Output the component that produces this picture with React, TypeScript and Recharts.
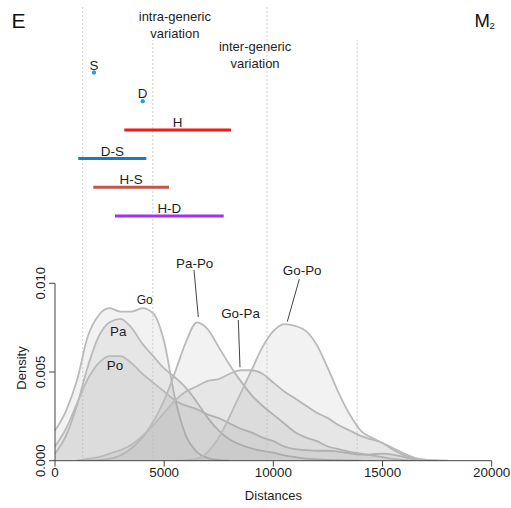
import { ComposedChart, Area, Line, XAxis, YAxis, ReferenceLine, ReferenceDot } from 'recharts'

// density grid (distance values)
const xGrid = [
  0, 500, 1000, 1500, 2000, 2500, 3000, 3500, 4000, 4500, 5000, 5500, 6000, 6500, 7000, 7500, 8000, 8500,
  9000, 9500, 10000, 10500, 11000, 11500, 12000, 12500, 13000, 13500, 14000, 14500, 15000, 15500, 16000,
  16500, 17000, 17500, 18000,
]

const goDens = [
  0.0017, 0.0028, 0.0045, 0.007, 0.0082, 0.0086, 0.0084, 0.0084, 0.0086, 0.0083, 0.0067, 0.0035, 0.0014,
  0.0005, 0.00015, 0.00004, 0, null, null, null, null, null, null, null, null, null, null, null, null, null,
  null, null, null, null, null, null, null,
]
const paDens = [
  0.0004, 0.0014, 0.0031, 0.0053, 0.007, 0.0078, 0.008, 0.0075, 0.0066, 0.0059, 0.0052, 0.0047, 0.0041,
  0.0033, 0.0024, 0.0017, 0.0012, 0.0009, 0.0007, 0.00055, 0.00045, 0.0003, 0.0002, 0.00012, 0.00008,
  0.00005, 0.00003, 0.00001, 0, null, null, null, null, null, null, null, null,
]
const poDens = [
  0.0008, 0.0018, 0.0032, 0.0046, 0.0055, 0.0059, 0.0059, 0.0055, 0.0049, 0.0044, 0.0039, 0.0034, 0.0031,
  0.0029, 0.0026, 0.0024, 0.0021, 0.0018, 0.0016, 0.0013, 0.0011, 0.0008, 0.00065, 0.0006, 0.00056, 0.00056,
  0.0005, 0.00042, 0.00034, 0.00036, 0.0004, 0.00033, 0.0002, 0.00008, 0.00002, 0, null,
]
const paPoDens = [
  null, null, null, 0, 0.00003, 0.0001, 0.0003, 0.0007, 0.0013, 0.0022, 0.0034, 0.005, 0.0067, 0.0078,
  0.0074, 0.0064, 0.0054, 0.0045, 0.0037, 0.0031, 0.0026, 0.0021, 0.0016, 0.0013, 0.0011, 0.0008, 0.00065,
  0.0005, 0.0004, 0.0003, 0.0002, 0.0001, 0.00003, 0, null, null, null,
]
const goPaDens = [
  null, null, 0, 0.0001, 0.0002, 0.0004, 0.0006, 0.0009, 0.0014, 0.002, 0.0027, 0.0034, 0.0039, 0.0042,
  0.0045, 0.0046, 0.0049, 0.0051, 0.0051, 0.0049, 0.0044, 0.0039, 0.0035, 0.0031, 0.0027, 0.0024, 0.002,
  0.0017, 0.0014, 0.0012, 0.001, 0.0006, 0.0003, 0.0001, 0.00003, 0, null,
]
const goPoDens = [
  null, null, null, null, null, null, null, null, null, null, null, 0, 0.00003, 0.0001, 0.0005, 0.0013,
  0.0025, 0.0038, 0.0051, 0.0064, 0.0073, 0.0077, 0.0076, 0.0073, 0.0065, 0.0052, 0.0038, 0.0026, 0.0017,
  0.0013, 0.001, 0.0007, 0.0004, 0.00015, 0.00005, 0.00001, 0,
]

const curveNames = ['Go', 'Pa', 'Po', 'Pa-Po', 'Go-Pa', 'Go-Po']
const curveKeys = ['go', 'pa', 'po', 'papo', 'gopa', 'gopo']

// ranges of the groups (top panel)
const segNames = ['S', 'D', 'H', 'D-S', 'H-S', 'H-D']
const segFrom = [1785, 4015, 3174, 1067, 1754, 2748]
const segTo = [1785, 4015, 8061, 4182, 5221, 7726]

const intraRange = [1270, 9711]
const interRange = [4482, 13840]

const xTicks = [0, 5000, 10000, 15000, 20000]
const yTicks = [0, 0.005, 0.01]

const densityData = xGrid.map((x, i) => ({
  x,
  go: goDens[i],
  pa: paDens[i],
  po: poDens[i],
  papo: paPoDens[i],
  gopa: goPaDens[i],
  gopo: goPoDens[i],
}))

// layout / style
const DENS_TOP = 0.025688
const INTER_TOP = 0.02372
const ROWS_DOMAIN = [-7.526, 8.352]
const TEXT = '#1e1e1e'
const AXIS = '#444'
const segColor: Record<string, string> = {
  S: '#1ca3e6',
  D: '#1ca3e6',
  H: '#ee1b1b',
  'D-S': '#1f77c6',
  'H-S': '#c4554d',
  'H-D': '#a431f2',
}
const curveLabelAt: Record<string, [number, number]> = {
  Go: [4108, 0.00909],
  Pa: [2899, 0.00727],
  Po: [2748, 0.0054],
  'Pa-Po': [6398, 0.01113],
  'Go-Pa': [8496, 0.00831],
  'Go-Po': [11322, 0.01072],
}
const pointers: [number, number, number, number][] = [
  [6366, 0.01075, 6563, 0.0081],
  [8395, 0.00793, 8473, 0.00527],
  [11189, 0.01023, 10639, 0.00784],
]

const YTick = ({ x, y, payload }: any) => (
  <text x={x} y={y} transform={`rotate(-90 ${x} ${y})`} textAnchor="middle" fontSize={13} fill={TEXT}>
    {Number(payload.value).toFixed(3)}
  </text>
)

const BandText = ({ viewBox, lines }: any) => {
  const { x, y } = viewBox
  return (
    <text x={x} y={y} textAnchor="middle" fontSize={13} fill={TEXT}>
      {lines.map((l: string, i: number) => (
        <tspan key={l} x={x} dy={i === 0 ? '0.35em' : 16.6}>
          {l}
        </tspan>
      ))}
    </text>
  )
}

export default function App() {
  const n = segNames.length
  return (
    <div
      style={{
        position: 'absolute',
        left: 0,
        top: 0,
        width: 511,
        height: 508,
        background: '#fff',
        fontFamily: '"Liberation Sans", Arial, sans-serif',
      }}
    >
      <ComposedChart width={511} height={508} data={densityData} margin={{ top: 5, right: 19.3, bottom: 17.3, left: 5 }}>
        <XAxis
          dataKey="x"
          type="number"
          domain={[0, 20000]}
          ticks={xTicks}
          interval={0}
          allowDataOverflow
          height={30}
          tickSize={6}
          tickMargin={1}
          stroke={AXIS}
          tick={{ fontSize: 13.4, fill: TEXT }}
        />
        <YAxis
          yAxisId="dens"
          type="number"
          domain={[0, DENS_TOP]}
          ticks={yTicks}
          interval={0}
          allowDataOverflow
          width={50}
          axisLine={false}
          tickSize={6}
          tickMargin={4}
          stroke={AXIS}
          tick={<YTick />}
        />
        <YAxis yAxisId="rows" type="number" domain={ROWS_DOMAIN} hide allowDataOverflow />

        {curveKeys.map(k => (
          <Area
            key={k}
            yAxisId="dens"
            type="monotone"
            dataKey={k}
            stroke="#bababa"
            strokeWidth={1.8}
            fill="#9a9a9a"
            fillOpacity={0.13}
            dot={false}
            activeDot={false}
            isAnimationActive={false}
          />
        ))}

        {intraRange.map(v => (
          <ReferenceLine key={'a' + v} yAxisId="dens" x={v} stroke="#bdbdbd" strokeDasharray="1.5 2.5" />
        ))}
        {interRange.map(v => (
          <ReferenceLine
            key={'e' + v}
            yAxisId="dens"
            segment={[{ x: v, y: 0 }, { x: v, y: INTER_TOP }]}
            stroke="#bdbdbd"
            strokeDasharray="1.5 2.5"
          />
        ))}
        <ReferenceLine yAxisId="dens" segment={[{ x: 0, y: yTicks[0] }, { x: 0, y: yTicks[2] }]} stroke={AXIS} />

        <ReferenceDot
          yAxisId="dens"
          x={(intraRange[0] + intraRange[1]) / 2}
          y={0.02503}
          r={0}
          fill="none"
          stroke="none"
          label={<BandText lines={['intra-generic', 'variation']} />}
        />
        <ReferenceDot
          yAxisId="dens"
          x={(interRange[0] + interRange[1]) / 2}
          y={0.02334}
          r={0}
          fill="none"
          stroke="none"
          label={<BandText lines={['inter-generic', 'variation']} />}
        />

        {curveNames.map(name => (
          <ReferenceDot
            key={'c' + name}
            yAxisId="dens"
            x={curveLabelAt[name][0]}
            y={curveLabelAt[name][1]}
            r={0}
            fill="none"
            stroke="none"
            label={{ value: name, position: 'center', fontSize: name === 'Go' ? 12 : 13.4, fill: TEXT }}
          />
        ))}
        {pointers.map((p, i) => (
          <ReferenceLine
            key={'p' + i}
            yAxisId="dens"
            segment={[{ x: p[0], y: p[1] }, { x: p[2], y: p[3] }]}
            stroke="#444"
            strokeWidth={1}
          />
        ))}

        {segNames.map((name, i) => {
          const isPoint = segFrom[i] === segTo[i]
          return (
            <Line
              key={name}
              yAxisId="rows"
              data={[
                { x: segFrom[i], row: n - i },
                { x: segTo[i], row: n - i },
              ]}
              dataKey="row"
              stroke={segColor[name]}
              strokeWidth={isPoint ? 0 : 3}
              dot={isPoint ? { r: 2, fill: segColor[name], stroke: 'none' } : false}
              activeDot={false}
              isAnimationActive={false}
            />
          )
        })}
        {segNames.map((name, i) => (
          <ReferenceDot
            key={'s' + name}
            yAxisId="rows"
            x={(segFrom[i] + segTo[i]) / 2}
            y={n - i}
            r={0}
            fill="none"
            stroke="none"
            label={{ value: name, position: 'top', offset: 3, fontSize: 13.4, fill: TEXT }}
          />
        ))}
      </ComposedChart>

      <svg
        width={511}
        height={508}
        style={{ position: 'absolute', left: 0, top: 0, pointerEvents: 'none' }}
      >
        <text x={11.6} y={28.3} fontSize={21} fill="#111">E</text>
        <text x={474.6} y={26.7} fontSize={18.5} fill="#111">M</text>
        <text x={489.5} y={28.5} fontSize={9.5} fill="#111">2</text>
        <text x={26} y={368} transform="rotate(-90 26 368)" textAnchor="middle" fontSize={13} fill={TEXT}>
          Density
        </text>
        <text x={273.4} y={500} textAnchor="middle" fontSize={13} fill={TEXT}>
          Distances
        </text>
      </svg>
    </div>
  )
}
